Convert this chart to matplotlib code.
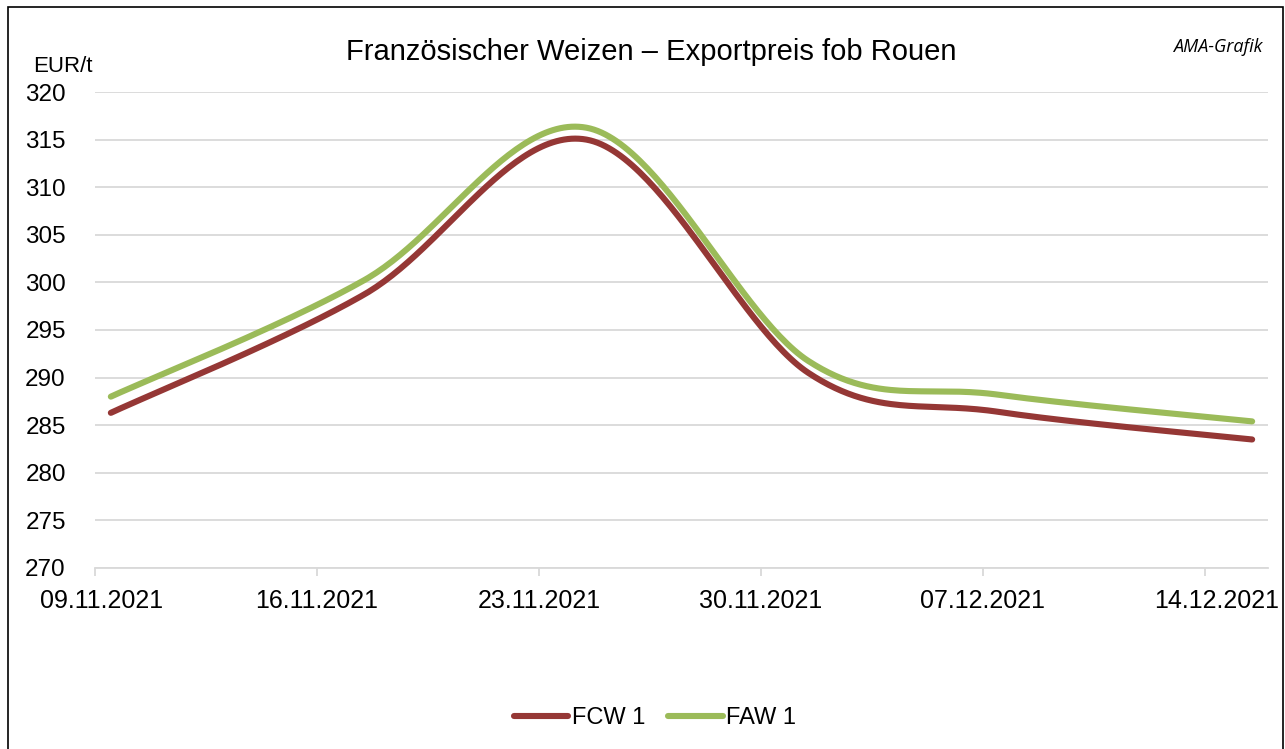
import numpy as np
import pandas as pd
import matplotlib
matplotlib.use("Agg")
import matplotlib.pyplot as plt
from matplotlib.patches import Rectangle
from matplotlib.lines import Line2D
from matplotlib.transforms import ScaledTranslation

# ---- data ----
dates = ["09.11.2021", "17.11.2021", "24.11.2021", "01.12.2021", "07.12.2021", "15.12.2021"]
fcw1 = [286.3, 298.75, 315.0, 290.5, 286.4, 283.5]
faw1 = [288.0, 300.25, 316.25, 291.75, 288.2, 285.4]
tick_labels = ["09.11.2021", "16.11.2021", "23.11.2021", "30.11.2021", "07.12.2021", "14.12.2021"]
series_names = ["FCW 1", "FAW 1"]
title = "Französischer Weizen – Exportpreis fob Rouen"

start = pd.to_datetime("09.11.2021", format="%d.%m.%Y")
end = pd.to_datetime("16.12.2021", format="%d.%m.%Y")
xd = np.array([(pd.to_datetime(d, format="%d.%m.%Y") - start).days + 0.5 for d in dates])
xt = np.array([(pd.to_datetime(d, format="%d.%m.%Y") - start).days for d in tick_labels])


def excel_smooth(x, y, n=60):
    P = np.column_stack([x, y]).astype(float)
    out = []
    t = np.linspace(0, 1, n)[:, None]
    for i in range(len(P) - 1):
        pm = P[i - 1] if i > 0 else P[i]
        pp = P[i + 2] if i + 2 < len(P) else P[i + 1]
        c1 = P[i] + (P[i + 1] - pm) / 6.0
        c2 = P[i + 1] - (pp - P[i]) / 6.0
        b = ((1 - t) ** 3) * P[i] + 3 * ((1 - t) ** 2) * t * c1 + 3 * (1 - t) * t ** 2 * c2 + t ** 3 * P[i + 1]
        out.append(b if i == 0 else b[1:])
    B = np.vstack(out)
    return B[:, 0], B[:, 1]


plt.rcParams['font.family'] = ['Liberation Sans', 'DejaVu Sans']

W, H = 1285, 749
fig = plt.figure(figsize=(W / 100, H / 100), dpi=100)
ax = fig.add_axes([95 / W, 1 - 568 / H, (1268 - 95) / W, (568 - 92) / H])

c_fcw = "#953735"
c_faw = "#9BBB59"

for vals, col, name in [(fcw1, c_fcw, series_names[0]), (faw1, c_faw, series_names[1])]:
    sx, sy = excel_smooth(xd, vals)
    ax.plot(sx, sy, color=col, lw=4.4, solid_capstyle="round", label=name, zorder=3)

ax.set_xlim(0, (end - start).days)
ax.set_ylim(270, 320)
ax.set_yticks(np.arange(270, 321, 5))
ax.grid(axis="y", color="#d9d9d9", lw=1.3, zorder=0)
ax.set_axisbelow(True)
for s in ["left", "right", "top"]:
    ax.spines[s].set_visible(False)
ax.spines["bottom"].set_color("#d9d9d9")
ax.spines["bottom"].set_linewidth(1.3)
ax.set_xticks(xt)
ax.set_xticklabels(tick_labels)
ax.tick_params(axis="x", colors="#d9d9d9", length=6, width=1.3, labelcolor="black",
               labelsize=18, pad=9)
ax.tick_params(axis="y", length=0, labelsize=17.5, pad=21)

# Excel nudges the outermost date labels inward/right
xlabels = ax.get_xticklabels()
xlabels[0].set_transform(xlabels[0].get_transform() + ScaledTranslation(7 / 100, 0, fig.dpi_scale_trans))
xlabels[-1].set_transform(xlabels[-1].get_transform() + ScaledTranslation(12 / 100, 0, fig.dpi_scale_trans))

fig.text(651 / W, 1 - 52 / H, title, ha="center", va="center", fontsize=21)
fig.text(63 / W, 1 - 67 / H, "EUR/t", ha="center", va="center", fontsize=16)
fig.text(1262 / W, 1 - 47 / H, "AMA-Grafik", ha="right", va="center", fontsize=13,
         style="italic", family=["Open Sans", "DejaVu Sans"])

handles = [Line2D([0], [0], color=c_fcw, lw=4.4, solid_capstyle="round"),
           Line2D([0], [0], color=c_faw, lw=4.4, solid_capstyle="round")]
fig.legend(handles, series_names, loc="center", bbox_to_anchor=(655 / W, 1 - 718 / H),
           ncol=2, frameon=False, fontsize=17, handlelength=2.3, handletextpad=0.15,
           columnspacing=1.0)

fig.add_artist(Rectangle((8 / W, -0.01), (1283 - 8) / W, (749 - 7) / H + 0.01,
                         transform=fig.transFigure, fill=False, edgecolor="black", lw=1.2))

fig.savefig("out.png", dpi=100)
